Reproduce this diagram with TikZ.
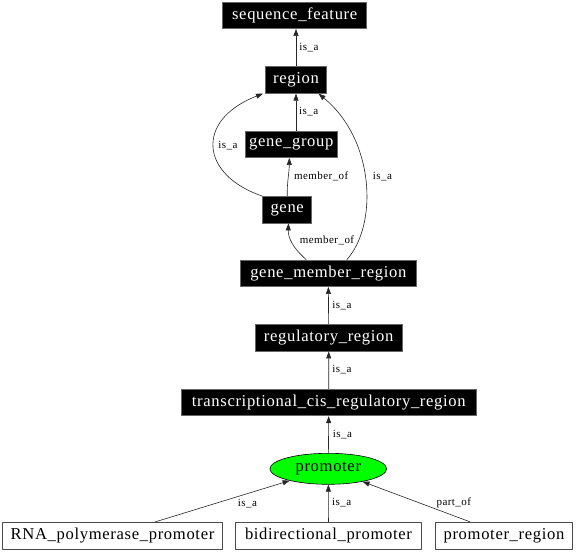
\documentclass[tikz,border=0pt]{standalone}
\usepackage{fontspec}
\setmainfont{Liberation Serif}[LetterSpace=4]
\usetikzlibrary{shapes.geometric,arrows.meta}
\tikzset{
  blk/.style={rectangle, fill=black, draw=black!60, line width=0.8pt, text=white,
    inner sep=0pt, minimum height=26.5pt, font=\fontsize{16.6}{20}\selectfont},
  wht/.style={rectangle, fill=white, draw=black!70, line width=0.8pt,
    inner sep=0pt, minimum height=26.7pt, font=\fontsize{16.6}{20}\selectfont},
  oval/.style={ellipse, fill=green, draw=black, line width=0.6pt, inner sep=0pt,
    minimum width=116.7pt, minimum height=31pt, font=\fontsize{16.6}{20}\selectfont},
  lbl/.style={inner sep=0pt, font=\fontsize{11}{13}\selectfont},
  edge/.style={draw=black!85, line width=0.6pt, -{Triangle[length=7pt,width=5pt]}},
}
\begin{document}
\begin{tikzpicture}[x=1pt,y=-1pt]
\useasboundingbox (0,0) rectangle (576,552);
% nodes
\node[blk, minimum width=144pt]   (sf)   at (294.7,15.3)  {sequence\_feature};
\node[blk, minimum width=60.3pt]  (reg0) at (296,80)      {region};
\node[blk, minimum width=92pt]    (gg)   at (291.3,144.3) {gene\_group};
\node[blk, minimum width=49pt]    (gene) at (287.2,209.7) {gene};
\node[blk, minimum width=175.3pt] (gmr)  at (328.3,273.3) {gene\_member\_region};
\node[blk, minimum width=147.3pt] (rr)   at (328.7,337.8) {regulatory\_region};
\node[blk, minimum width=294.3pt] (tcr)  at (328.8,402.5) {transcriptional\_cis\_regulatory\_region};
\node[oval] (prom) at (328.3,468.8) {promoter};
\node[wht, minimum width=219.6pt] (rna)  at (112.5,535.7) {RNA\_polymerase\_promoter};
\node[wht, minimum width=186.4pt] (bid)  at (328.5,535.7) {bidirectional\_promoter};
\node[wht, minimum width=137.4pt] (pr)   at (504,535.7)   {promoter\_region};
% edges
\draw[edge] (reg0.north) -- (reg0.north |- sf.south);
\draw[edge] (reg0.south |- gg.north) -- (reg0.south);
\draw[edge] (gene.north) .. controls (287,182) and (289.3,172) .. ([xshift=-2pt]gg.south);
\draw[edge] (gene.north west) .. controls (200,175) and (195,120) .. ([xshift=-2.5pt]reg0.south west);
\draw[edge] ([xshift=-22pt]gmr.north) .. controls (293,248) and (288,238) .. ([xshift=1.3pt]gene.south);
\draw[edge] ([xshift=18.5pt]gmr.north) .. controls (378,225) and (375,140) .. ([xshift=-8pt]reg0.south east);
\draw[edge] (rr) -- (gmr);
\draw[edge] (tcr) -- (rr);
\draw[edge] (prom) -- (tcr);
\draw[edge] ([xshift=42.5pt]rna.north) -- (prom);
\draw[edge] (bid) -- (prom);
\draw[edge] ([xshift=-33.7pt]pr.north) -- (prom);
% labels
\node[lbl] (l1)  at (309,47.7)   {is\_a};
\node[lbl] (l2)  at (308.7,111.7) {is\_a};
\node[lbl] (l3)  at (228,145.7)  {is\_a};
\node[lbl] (l4)  at (321.2,176)  {member\_of};
\node[lbl] (l5)  at (382.5,176.7) {is\_a};
\node[lbl] (l6)  at (327,240.7)  {member\_of};
\node[lbl] (l7)  at (342,306)    {is\_a};
\node[lbl] (l8)  at (342,370)    {is\_a};
\node[lbl] (l9)  at (342.5,434.6) {is\_a};
\node[lbl] (l10) at (247.5,503.3) {is\_a};
\node[lbl] (l11) at (341.7,503)  {is\_a};
\node[lbl] (l12) at (453.8,503)  {part\_of};
\end{tikzpicture}
\end{document}
